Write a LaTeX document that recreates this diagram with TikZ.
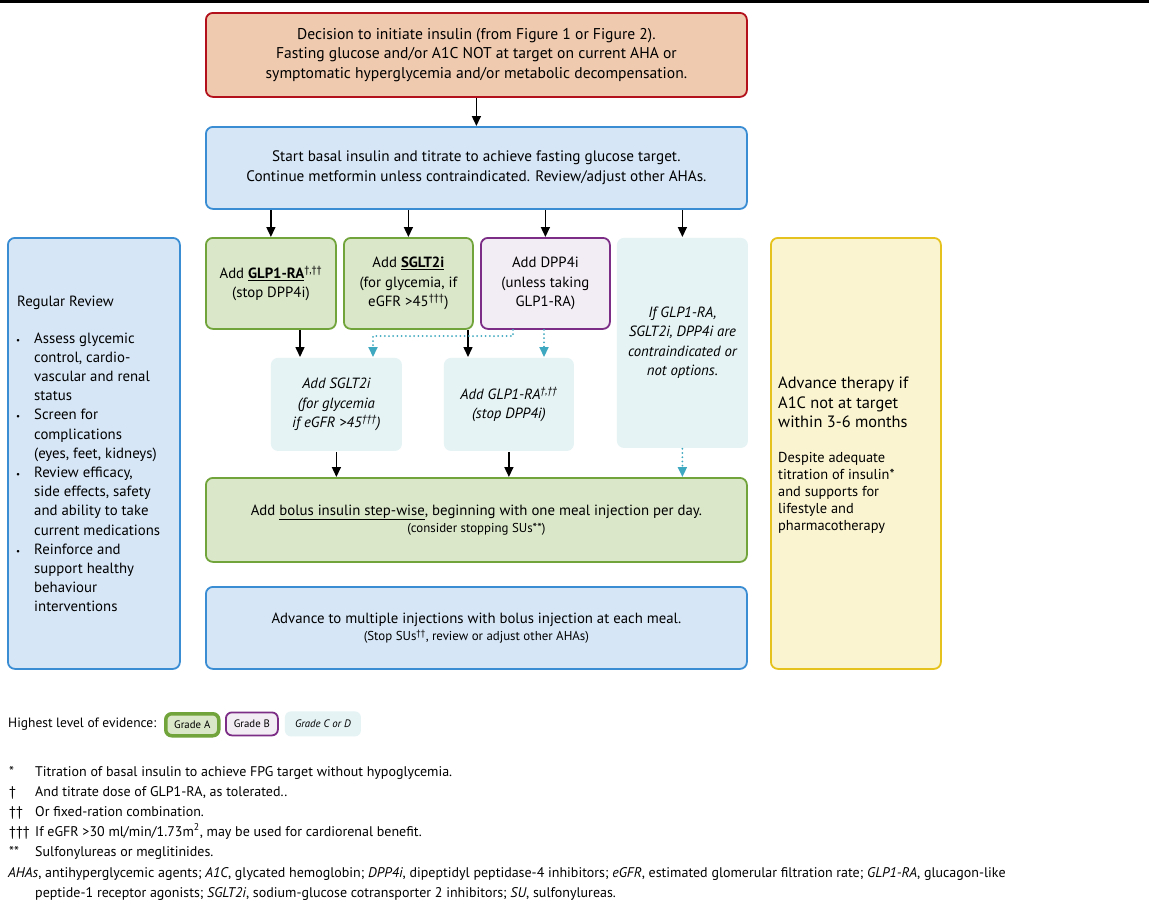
\documentclass[tikz,border=0pt]{standalone}
\usepackage{fontspec}
\setmainfont{PT Sans}
\usetikzlibrary{arrows.meta}
\definecolor{peachfill}{HTML}{EFCAAF}
\definecolor{peachline}{HTML}{B3121D}
\definecolor{bluefill}{HTML}{D6E6F6}
\definecolor{blueline}{HTML}{3A8DD3}
\definecolor{greenfill}{HTML}{DAE7C9}
\definecolor{greenline}{HTML}{71A43A}
\definecolor{purplefill}{HTML}{F2ECF4}
\definecolor{purpleline}{HTML}{7C2E86}
\definecolor{cyanfill}{HTML}{E5F3F5}
\definecolor{yellowfill}{HTML}{FAF4D0}
\definecolor{yellowline}{HTML}{E6C21F}
\definecolor{cyanline}{HTML}{3DA8BF}
\newcommand\fmain{\fontsize{14.8}{19.5}\selectfont}
\newcommand\ftop{\fontsize{15.6}{19.5}\selectfont}
\newcommand\fbasal{\fontsize{15.2}{19.5}\selectfont}
\newcommand\fsmalltxt{\fontsize{12.9}{15}\selectfont}
\newcommand\fleft{\fontsize{14.8}{19.2}\selectfont}
\newcommand\fnotetxt{\fontsize{14}{20}\selectfont}
\newcommand\flegend{\fontsize{13.5}{20}\selectfont}
\newcommand\fadv{\fontsize{16.4}{19.3}\selectfont}
\newcommand\fdesp{\fontsize{14.4}{17}\selectfont}
\newcommand\fgrade{\fontsize{10.8}{12}\selectfont}
\newcommand\fbullet{\fontsize{9}{9}\selectfont}
\begin{document}
\begin{tikzpicture}[x=1pt,y=-1pt,
  box/.style={rounded corners=7pt, line width=1.8pt, anchor=north west, inner sep=0pt, align=center, font=\fmain},
  bluebox/.style={box, draw=blueline, fill=bluefill},
  greenbox/.style={box, draw=greenline, fill=greenfill},
  purplebox/.style={box, draw=purpleline, fill=purplefill},
  cyanbox/.style={box, draw=none, fill=cyanfill, font=\fmain\itshape},
  peachbox/.style={box, draw=peachline, fill=peachfill},
  yellowbox/.style={box, draw=yellowline, fill=yellowfill},
  txt/.style={inner sep=0pt, anchor=north west, align=left},
  arr/.style={line width=1.5pt, -{Triangle[width=9pt,length=10pt]}},
  dotarr/.style={cyanline, line width=2pt, line cap=round, dash pattern=on 0pt off 4.2pt, -{Triangle[width=9pt,length=10pt]}}]
\useasboundingbox (0,0) rectangle (1149,903);
\fill[white] (0,0) rectangle (1149,903);
\fill[black] (0,0) rectangle (1149,2.5);

% main column
\node[peachbox, font=\ftop, minimum width=541, minimum height=84] (decide) at (205,12)
  {Decision to initiate insulin (from Figure 1 or Figure 2).\\Fasting glucose and/or A1C NOT at target on current AHA or\\symptomatic hyperglycemia and/or metabolic decompensation.};
\node[bluebox, font=\fbasal, minimum width=541, minimum height=82] (basal) at (205,126)
  {Start basal insulin and titrate to achieve fasting glucose target.\\Continue metformin unless contraindicated. Review/adjust other AHAs.};
\node[greenbox, minimum width=130, minimum height=91] (glp) at (205,237)
  {Add \underline{\textbf{GLP1-RA}}\textsuperscript{†,††}\\(stop DPP4i)};
\node[greenbox, minimum width=129, minimum height=91] (sglt) at (343,237)
  {Add \underline{\textbf{SGLT2i}}\\(for glycemia, if\\eGFR >45\textsuperscript{†††})};
\node[purplebox, minimum width=129, minimum height=91] (dpp) at (480,237)
  {Add DPP4i\\(unless taking\\GLP1-RA)};
\node[cyanbox, minimum width=131, minimum height=210] (none) at (616,237)
  {If GLP1-RA,\\SGLT2i, DPP4i are\\contraindicated or\\not options.};
\node[cyanbox, minimum width=131, minimum height=93] (isglt) at (270,357)
  {Add SGLT2i\\(for glycemia\\if eGFR >45\textsuperscript{†††})};
\node[cyanbox, minimum width=130, minimum height=93] (iglp) at (443,357)
  {Add GLP1-RA\textsuperscript{†,††}\\(stop DPP4i)};
\node[greenbox, minimum width=541, minimum height=84] (bolus) at (205,477)
  {Add \underline{bolus insulin step-wise}, beginning with one meal injection per day.\\[-2pt]{\fsmalltxt (consider stopping SUs**)}};
\node[bluebox, minimum width=541, minimum height=82] (multi) at (205,586)
  {Advance to multiple injections with bolus injection at each meal.\\[-2pt]{\fsmalltxt (Stop SUs\textsuperscript{††}, review or adjust other AHAs)}};

% side boxes
\node[bluebox, minimum width=172, minimum height=431] (review) at (7,237) {};
\node[txt, anchor=base west, font=\fleft] (reviewhead) at (17,306) {Regular Review};
\node[txt, font=\fleft] (reviewlist) at (16,329.5) {%
  \begin{tabular}{@{}p{18pt}@{}l@{}}
  \fbullet • & Assess glycemic\\ & control, cardio-\\ & vascular and renal\\ & status\\
  \fbullet • & Screen for\\ & complications\\ & (eyes, feet, kidneys)\\
  \fbullet • & Review efficacy,\\ & side effects, safety\\ & and ability to take\\ & current medications\\
  \fbullet • & Reinforce and\\ & support healthy\\ & behaviour\\ & interventions
  \end{tabular}};
\node[yellowbox, minimum width=170, minimum height=431] (advance) at (770,237) {};
\node[txt, font=\fadv] (advhead) at (778,375.2) {%
  \begin{tabular}{@{}l@{}}Advance therapy if\\A1C not at target\\within 3-6 months\end{tabular}};
\node[txt, font=\fdesp] (advnote) at (778,450) {%
  \begin{tabular}{@{}l@{}}Despite adequate\\titration of insulin*\\and supports for\\lifestyle and\\pharmacotherapy\end{tabular}};

% connectors
\coordinate (c1) at (300,0);
\coordinate (c2) at (468,0);
\coordinate (d1) at (513,336);
\coordinate (d2) at (373,336);
\coordinate (d3) at (544,0);
\draw[arr] (decide.south) -- (basal.north);
\draw[arr] (basal.south -| glp.north) -- (glp.north);
\draw[arr] (basal.south -| sglt.north) -- (sglt.north);
\draw[arr] (basal.south -| dpp.north) -- (dpp.north);
\draw[arr] (basal.south -| none.north) -- (none.north);
\draw[arr] (glp.south -| c1) -- (isglt.north -| c1);
\draw[arr] (sglt.south -| c2) -- (iglp.north -| c2);
\draw[dotarr] (dpp.south -| d1) -- (d1) -- (d2) -- (isglt.north -| d2);
\draw[dotarr] (dpp.south -| d3) -- (iglp.north -| d3);
\draw[arr] (isglt.south) -- (bolus.north -| isglt.south);
\draw[arr] (iglp.south) -- (bolus.north -| iglp.south);
\draw[dotarr] (none.south) -- (bolus.north -| none.south);

% legend
\node[txt, anchor=base west, font=\flegend] (legendlabel) at (8,727) {Highest level of evidence:};
\node[greenbox, line width=3.5pt, rounded corners=6pt, minimum width=53, minimum height=22, font=\fgrade] (gradea) at (164,712) {Grade A};
\node[purplebox, rounded corners=6pt, minimum width=52, minimum height=23, font=\fgrade] (gradeb) at (225,711.5) {Grade B};
\node[cyanbox, rounded corners=6pt, minimum width=76, minimum height=25, font=\fgrade\itshape] (gradec) at (284,710.5) {Grade C or D};

% footnotes
\node[txt, font=\fnotetxt] (notes) at (9,762) {%
  \begin{tabular}{@{}p{26pt}@{}l@{}}
  \relax * & Titration of basal insulin to achieve FPG target without hypoglycemia.\\
  \relax † & And titrate dose of GLP1-RA, as tolerated..\\
  \relax †† & Or fixed-ration combination.\\
  \relax ††† & If eGFR >30 ml/min/1.73m\textsuperscript{2}, may be used for cardiorenal benefit.\\
  \relax ** & Sulfonylureas or meglitinides.
  \end{tabular}};
\node[txt, anchor=base west, font=\fnotetxt] (abbr1) at (8,877)
  {\textit{AHAs}, antihyperglycemic agents; \textit{A1C}, glycated hemoglobin; \textit{DPP4i}, dipeptidyl peptidase-4 inhibitors; \textit{eGFR}, estimated glomerular filtration rate; \textit{GLP1-RA}, glucagon-like};
\node[txt, anchor=base west, font=\fnotetxt] (abbr2) at (35,897)
  {peptide-1 receptor agonists; \textit{SGLT2i}, sodium-glucose cotransporter 2 inhibitors; \textit{SU}, sulfonylureas.};
\end{tikzpicture}
\end{document}
